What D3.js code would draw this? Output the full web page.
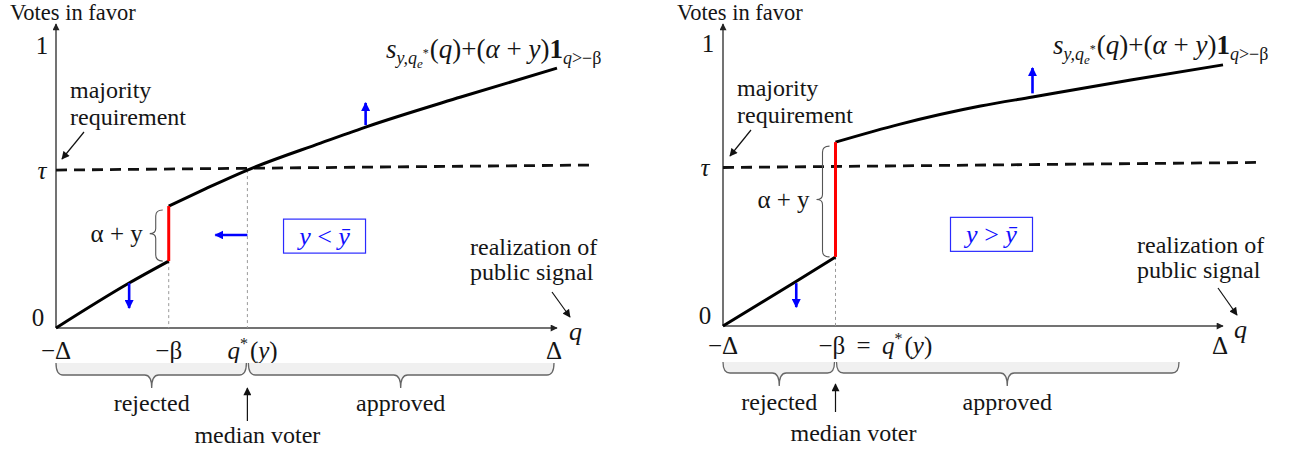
<!DOCTYPE html>
<html><head><meta charset="utf-8">
<script src="https://cdn.jsdelivr.net/npm/d3@7"></script>
<style>
body{margin:0;background:#fff}
text{font-family:"Liberation Serif","Times New Roman",serif;fill:#151515}
</style>
</head><body>
<svg id="c" width="1291" height="451"></svg>
<script>
// ---------- data ----------
const qDomain = [-1, 1];            // −Δ … Δ
const voteDomain = [0, 1];
const betaQ = -0.55;                // position of −β
const lowerQ = [-1, -0.708, -0.55];
const leftLowerVotes = [0, 0.160, 0.238];
const leftUpperQ = [-0.55, -0.404, -0.236, 0.056, 0.236, 0.616, 1.0];
const leftUpperVotes = [0.434, 0.495, 0.562, 0.658, 0.715, 0.822, 0.925];
const rightLowerVotes = [0, 0.158, 0.245];
const rightUpperQ = [-0.55, -0.291, 0.030, 0.238, 0.631, 1.0];
const rightUpperVotes = [0.652, 0.716, 0.780, 0.812, 0.872, 0.926];
const tauQ = [-1, 1.14];
const tauVotes = [0.562, 0.580];
const qStarLeft = -0.236;
const qStarRight = -0.55;
const leftShiftQ0 = [-0.708, 0.236, -0.236];
const leftShiftV0 = [0.160, 0.722, 0.331];
const leftShiftQ1 = [-0.708, 0.236, -0.364];
const leftShiftV1 = [0.071, 0.801, 0.331];
const rightShiftQ0 = [-0.707, 0.238];
const rightShiftV0 = [0.152, 0.825];
const rightShiftQ1 = [-0.707, 0.238];
const rightShiftV1 = [0.067, 0.915];
const approvedEndLeft = 0.988;
const approvedEndRight = 0.824;
const yAxisLabels = ["1", "τ", "0"];
const yAxisLabelVotes = [1, 0.562, 0];

const svg = d3.select("#c");
const defs = svg.append("defs");
function marker(id, color, w, h) {
  defs.append("marker").attr("id", id).attr("viewBox", "0 0 10 10")
    .attr("refX", 9).attr("refY", 5).attr("markerUnits", "userSpaceOnUse")
    .attr("markerWidth", w).attr("markerHeight", h).attr("orient", "auto")
    .append("path").attr("d", "M0,0 L10,5 L0,10 Z").attr("fill", color);
}
marker("ax", "#222", 8, 7);
marker("thin", "#111", 9, 8);
marker("blue", "#0000ff", 9, 9);

function hBrace(g, x0, x1, xm, yTop, yLine, yTip) {
  const p = `M${x0},${yTop} Q${x0},${yLine} ${x0+7},${yLine} L${xm-7},${yLine} Q${xm},${yLine} ${xm},${yTip} Q${xm},${yLine} ${xm+7},${yLine} L${x1-7},${yLine} Q${x1},${yLine} ${x1},${yTop}`;
  g.append("path").attr("d", p + " Z").attr("fill", "#f0f0f0").attr("stroke", "none");
  g.append("path").attr("d", p).attr("fill", "none").attr("stroke", "#666").attr("stroke-width", 1.3);
}
function vBrace(g, xEnd, xLine, xTip, y0, y1, ym) {
  const p = `M${xEnd},${y0} Q${xLine},${y0} ${xLine},${y0+6} L${xLine},${ym-5} Q${xLine},${ym} ${xTip},${ym} Q${xLine},${ym} ${xLine},${ym+5} L${xLine},${y1-6} Q${xLine},${y1} ${xEnd},${y1}`;
  g.append("path").attr("d", p).attr("fill", "none").attr("stroke", "#555").attr("stroke-width", 1.1);
}
function label(g, x, y, s, size, anchor, extra) {
  const t = g.append("text").attr("x", x).attr("y", y).attr("font-size", size)
    .attr("text-anchor", anchor || "start").attr("dominant-baseline", "central").text(s);
  if (extra) extra(t);
  return t;
}
function formula(g, x, y) {
  const t = g.append("text").attr("x", x).attr("y", y).attr("font-size", 27);
  t.append("tspan").attr("font-style", "italic").text("s");
  t.append("tspan").attr("font-style", "italic").attr("font-size", 18).attr("dy", 6).text("y,q");
  t.append("tspan").attr("font-style", "italic").attr("font-size", 13).attr("dy", 4).text("e");
  t.append("tspan").attr("font-size", 12).attr("dx", 0).attr("dy", -11).text("*");
  t.append("tspan").attr("dy", 1).attr("dx", 1).text("(");
  t.append("tspan").attr("font-style", "italic").text("q");
  t.append("tspan").text(")+(");
  t.append("tspan").attr("font-style", "italic").text("α");
  t.append("tspan").text(" + ");
  t.append("tspan").attr("font-style", "italic").text("y");
  t.append("tspan").text(")");
  t.append("tspan").attr("font-weight", "bold").text("1");
  t.append("tspan").attr("font-style", "italic").attr("font-size", 18).attr("dy", 6).text("q");
  t.append("tspan").attr("font-size", 18).text(">−β");
}

function drawPanel(cfg) {
  const g = svg.append("g");
  const x = d3.scaleLinear().domain(qDomain).range(cfg.xRange);
  const y = d3.scaleLinear().domain(voteDomain).range(cfg.yRange);
  const line = d3.line().x(d => x(d[0])).y(d => y(d[1])).curve(d3.curveMonotoneX);

  // axis title
  label(g, cfg.titleX, 12, "Votes in favor", 22.5);
  // axes
  g.append("line").attr("x1", x(-1)).attr("y1", y(0)).attr("x2", x(-1)).attr("y2", 24)
    .attr("stroke", "#444").attr("stroke-width", 1.5).attr("marker-end", "url(#ax)");
  g.append("line").attr("x1", x(-1)).attr("y1", y(0)).attr("x2", cfg.xAxisEnd).attr("y2", y(0))
    .attr("stroke", "#444").attr("stroke-width", 1.5).attr("marker-end", "url(#ax)");
  label(g, cfg.qLabelX, y(0) + 3, "q", 26, "start", t => t.attr("font-style", "italic"));

  // y labels
  yAxisLabels.forEach((s, i) => {
    label(g, x(-1) - cfg.yLabOff[i], y(yAxisLabelVotes[i]) + cfg.yLabDy[i], s, 25, "middle",
      t => { if (s === "τ") t.attr("font-style", "italic"); });
  });

  // dotted guide lines
  g.append("line").attr("x1", x(betaQ)).attr("x2", x(betaQ)).attr("y1", y(cfg.lowerVotes[2])).attr("y2", y(0))
    .attr("stroke", "#999").attr("stroke-width", 1).attr("stroke-dasharray", "3,3");
  if (cfg.qStar !== betaQ) {
    g.append("line").attr("x1", x(cfg.qStar)).attr("x2", x(cfg.qStar)).attr("y1", y(tauVotes[0])).attr("y2", y(0))
      .attr("stroke", "#999").attr("stroke-width", 1).attr("stroke-dasharray", "3,3");
  }

  // tau dashed line
  g.append("line").attr("x1", x(tauQ[0])).attr("y1", y(tauVotes[0])).attr("x2", x(tauQ[1])).attr("y2", y(tauVotes[1]))
    .attr("stroke", "#111").attr("stroke-width", 2.8).attr("stroke-dasharray", "11,7");

  // curves
  g.append("path").attr("d", line(d3.zip(lowerQ, cfg.lowerVotes))).attr("fill", "none")
    .attr("stroke", "#000").attr("stroke-width", 3);
  g.append("path").attr("d", line(d3.zip(cfg.upperQ, cfg.upperVotes))).attr("fill", "none")
    .attr("stroke", "#000").attr("stroke-width", 3);
  g.append("line").attr("x1", x(betaQ)).attr("x2", x(betaQ))
    .attr("y1", y(cfg.lowerVotes[2])).attr("y2", y(cfg.upperVotes[0]))
    .attr("stroke", "#ff0000").attr("stroke-width", 3);

  // alpha + y brace
  vBrace(g, x(betaQ) - 6, x(betaQ) - 13, x(betaQ) - 19,
    y(cfg.upperVotes[0]) + 4, y(cfg.lowerVotes[2]), (y(cfg.upperVotes[0]) + y(cfg.lowerVotes[2])) / 2);
  label(g, x(betaQ) - 52, (y(cfg.upperVotes[0]) + y(cfg.lowerVotes[2])) / 2, "α + y", 25, "middle");

  // blue shift arrows
  cfg.shiftQ0.forEach((q0, i) => {
    g.append("line").attr("x1", x(q0)).attr("y1", y(cfg.shiftV0[i]))
      .attr("x2", x(cfg.shiftQ1[i])).attr("y2", y(cfg.shiftV1[i]))
      .attr("stroke", "#0000ff").attr("stroke-width", 2.6).attr("marker-end", "url(#blue)");
  });

  // box
  const bx = x(cfg.boxQ), by = y(cfg.boxV);
  g.append("rect").attr("x", bx - 41).attr("y", by - 17).attr("width", 82).attr("height", 34)
    .attr("fill", "#fff").attr("stroke", "#2a2aff").attr("stroke-width", 1.2);
  const bt = g.append("text").attr("x", bx).attr("y", by).attr("text-anchor", "middle")
    .attr("dominant-baseline", "central").attr("font-size", 26).style("fill", "#1010ff");
  bt.append("tspan").attr("font-style", "italic").text("y");
  bt.append("tspan").text(cfg.boxOp);
  bt.append("tspan").attr("font-style", "italic").text("ȳ");

  // formula label
  formula(g, cfg.formulaX, cfg.formulaY);

  // majority requirement
  label(g, cfg.majX, cfg.majY, "majority", 24);
  label(g, cfg.majX, cfg.majY + 27, "requirement", 24);
  g.append("line").attr("x1", cfg.majArrow[0]).attr("y1", cfg.majArrow[1]).attr("x2", cfg.majArrow[2]).attr("y2", cfg.majArrow[3])
    .attr("stroke", "#111").attr("stroke-width", 1.2).attr("marker-end", "url(#thin)");

  // realization of public signal
  label(g, cfg.realX, cfg.realY, "realization of", 24);
  label(g, cfg.realX, cfg.realY + 25, "public signal", 24);
  g.append("line").attr("x1", cfg.realArrow[0]).attr("y1", cfg.realArrow[1]).attr("x2", cfg.realArrow[2]).attr("y2", cfg.realArrow[3])
    .attr("stroke", "#111").attr("stroke-width", 1.2).attr("marker-end", "url(#thin)");

  // tick labels
  const ty = cfg.tickY;
  label(g, x(-1), ty, "−Δ", 25, "middle");
  label(g, x(1) - 3, ty, "Δ", 25, "middle");
  cfg.tickLabels(g, x, ty);

  // braces
  hBrace(g, x(-1), x(cfg.qStar) - 1, (x(-1) + x(cfg.qStar)) / 2, cfg.braceY[0], cfg.braceY[1], cfg.braceY[2]);
  hBrace(g, x(cfg.qStar) + 1, x(cfg.approvedEnd), (x(cfg.qStar) + x(cfg.approvedEnd)) / 2, cfg.braceY[0], cfg.braceY[1], cfg.braceY[2]);
  label(g, (x(-1) + x(cfg.qStar)) / 2, cfg.braceLabelY, "rejected", 24, "middle");
  label(g, (x(cfg.qStar) + x(cfg.approvedEnd)) / 2, cfg.braceLabelY, "approved", 24, "middle");
  g.append("line").attr("x1", x(cfg.qStar)).attr("x2", x(cfg.qStar)).attr("y1", cfg.medArrow[0]).attr("y2", cfg.medArrow[1])
    .attr("stroke", "#111").attr("stroke-width", 1.2).attr("marker-end", "url(#thin)");
  label(g, x(cfg.qStar) + cfg.medDx, cfg.medY, "median voter", 24, "middle");
}

function qStarLabel(t) {
  t.append("tspan").attr("font-style", "italic").text("q");
  t.append("tspan").attr("font-size", 16).attr("dy", -7).text("*");
  t.append("tspan").attr("dy", 7).attr("dx", 2).text("(");
  t.append("tspan").attr("font-style", "italic").text("y");
  t.append("tspan").text(")");
}

drawPanel({
  xRange: [56, 557], yRange: [328, 47], xAxisEnd: 557, qLabelX: 569, titleX: 10,
  yLabOff: [14, 14, 18], yLabDy: [-2, 0, -11],
  lowerVotes: leftLowerVotes, upperQ: leftUpperQ, upperVotes: leftUpperVotes,
  qStar: qStarLeft, approvedEnd: approvedEndLeft,
  shiftQ0: leftShiftQ0, shiftV0: leftShiftV0, shiftQ1: leftShiftQ1, shiftV1: leftShiftV1,
  boxQ: 0.072, boxV: 0.327, boxOp: " < ",
  formulaX: 386, formulaY: 58,
  majX: 70, majY: 90, majArrow: [84, 132, 62, 159],
  realX: 470, realY: 247, realArrow: [552, 292, 570, 317],
  tickY: 350,
  tickLabels: (g, x, ty) => {
    label(g, x(betaQ), ty, "−β", 25, "middle");
    label(g, x(qStarLeft) - 20, ty, "", 25, "start", qStarLabel);
  },
  braceY: [363, 375, 388], braceLabelY: 403, medArrow: [421, 388], medY: 435, medDx: 10
});

drawPanel({
  xRange: [723, 1223], yRange: [326, 44], xAxisEnd: 1223, qLabelX: 1234, titleX: 677,
  yLabOff: [15, 18, 18], yLabDy: [-1, 0, -11],
  lowerVotes: rightLowerVotes, upperQ: rightUpperQ, upperVotes: rightUpperVotes,
  qStar: qStarRight, approvedEnd: approvedEndRight,
  shiftQ0: rightShiftQ0, shiftV0: rightShiftV0, shiftQ1: rightShiftQ1, shiftV1: rightShiftV1,
  boxQ: 0.074, boxV: 0.325, boxOp: " > ",
  formulaX: 1053, formulaY: 54,
  majX: 737, majY: 88, majArrow: [751, 130, 730, 156],
  realX: 1137, realY: 245, realArrow: [1218, 288, 1237, 315],
  tickY: 345,
  tickLabels: (g, x, ty) => {
    const t = label(g, x(betaQ) - 17, ty, "", 25, "start");
    t.append("tspan").text("−β\u2009 = \u2009");
    qStarLabel(t);
  },
  braceY: [362, 373, 386], braceLabelY: 402, medArrow: [412, 384], medY: 433, medDx: 18
});
</script>
</body></html>
